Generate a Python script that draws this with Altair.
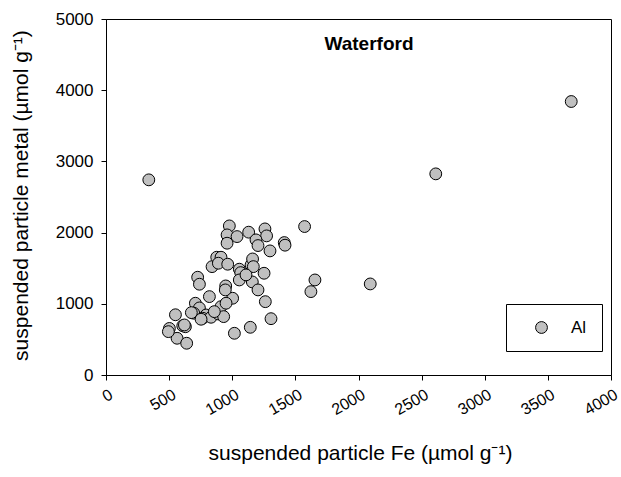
import altair as alt
import pandas as pd

fe = [339, 977, 959, 959, 1038, 1130, 1259, 1272, 1188, 1204, 1299, 1412, 1418, 1573,
      1655, 1623, 2093, 840, 877, 911, 890, 964, 1056, 1067, 1149, 1161, 1167, 1252,
      1056, 1159, 1204, 1262, 1307, 1143, 1017, 1003, 948, 945, 726, 740, 819, 708,
      740, 695, 793, 766, 832, 890, 911, 951, 932, 550, 502, 608, 629, 563, 639, 494,
      676, 753, 858, 1109, 621, 2612, 3685]
al = [2741, 2094, 1968, 1851, 1944, 2006, 2052, 1954, 1898, 1818, 1743, 1860, 1823, 2085,
      1335, 1171, 1279, 1522, 1654, 1654, 1570, 1556, 1486, 1438, 1546, 1630, 1522, 1429,
      1335, 1307, 1195, 1030, 791, 670, 586, 1078, 1251, 1195, 1373, 1275, 1101, 1008,
      942, 868, 843, 797, 811, 857, 960, 1008, 820, 846, 654, 691, 678, 516, 446, 609,
      876, 783, 890, 1406, 703, 2825, 3841]
series = ["Al"] * len(fe)

x_ticks = [0, 500, 1000, 1500, 2000, 2500, 3000, 3500, 4000]
y_ticks = [0, 1000, 2000, 3000, 4000, 5000]

df = pd.DataFrame({"fe": fe, "al": al, "series": series})

FONT = "Liberation Sans"

points = alt.Chart(df).mark_circle(size=140, stroke="black", strokeWidth=1, opacity=1).encode(
    x=alt.X("fe:Q", scale=alt.Scale(domain=[0, 4000], nice=False),
            axis=alt.Axis(values=x_ticks, format="d", title="suspended particle Fe (µmol g⁻¹)",
                          labelAngle=-30, labelAlign="right", labelBaseline="top",
                          labelPadding=6, labelOffset=1, tickSize=5, grid=False,
                          labelFontSize=16,
                          titleX=254, titleY=78, titleAlign="center", titleBaseline="middle")),
    y=alt.Y("al:Q", scale=alt.Scale(domain=[0, 5000], nice=False),
            axis=alt.Axis(values=y_ticks, format="d", title="suspended particle metal (µmol g⁻¹)",
                          tickSize=5, labelPadding=8, grid=False,
                          titleX=-85, titleY=176, titleAngle=-90, titleAlign="center",
                          titleBaseline="middle")),
    color=alt.Color("series:N", scale=alt.Scale(range=["#c0c0c0"]),
                    legend=alt.Legend(title=None, orient="none", legendX=400, legendY=285,
                                      strokeColor="black", fillColor="white", padding=15,
                                      symbolOffset=12, labelOffset=21, symbolSize=140,
                                      symbolStrokeColor="black", symbolStrokeWidth=1,
                                      symbolType="circle", labelFontSize=17, labelFont=FONT,
                                      labelColor="black")),
)

title = alt.Chart(pd.DataFrame({"t": ["Waterford"]})).mark_text(
    font=FONT, fontSize=19, fontWeight="bold", color="black", align="center", baseline="middle"
).encode(text="t:N", x=alt.value(263), y=alt.value(25))

chart = alt.layer(points, title).properties(
    width=505, height=356,
    autosize=alt.AutoSizeParams(type="none"),
    padding={"left": 106, "top": 19, "right": 10, "bottom": 102},
    background="white",
).configure_view(stroke="black", strokeWidth=1).configure_axis(
    domainColor="black", tickColor="black", labelColor="black", titleColor="black",
    labelFont=FONT, titleFont=FONT, labelFontSize=17, titleFontSize=21,
    titleFontWeight="normal",
)

chart.save("out.html", embed_options={"renderer": "svg", "actions": False})
